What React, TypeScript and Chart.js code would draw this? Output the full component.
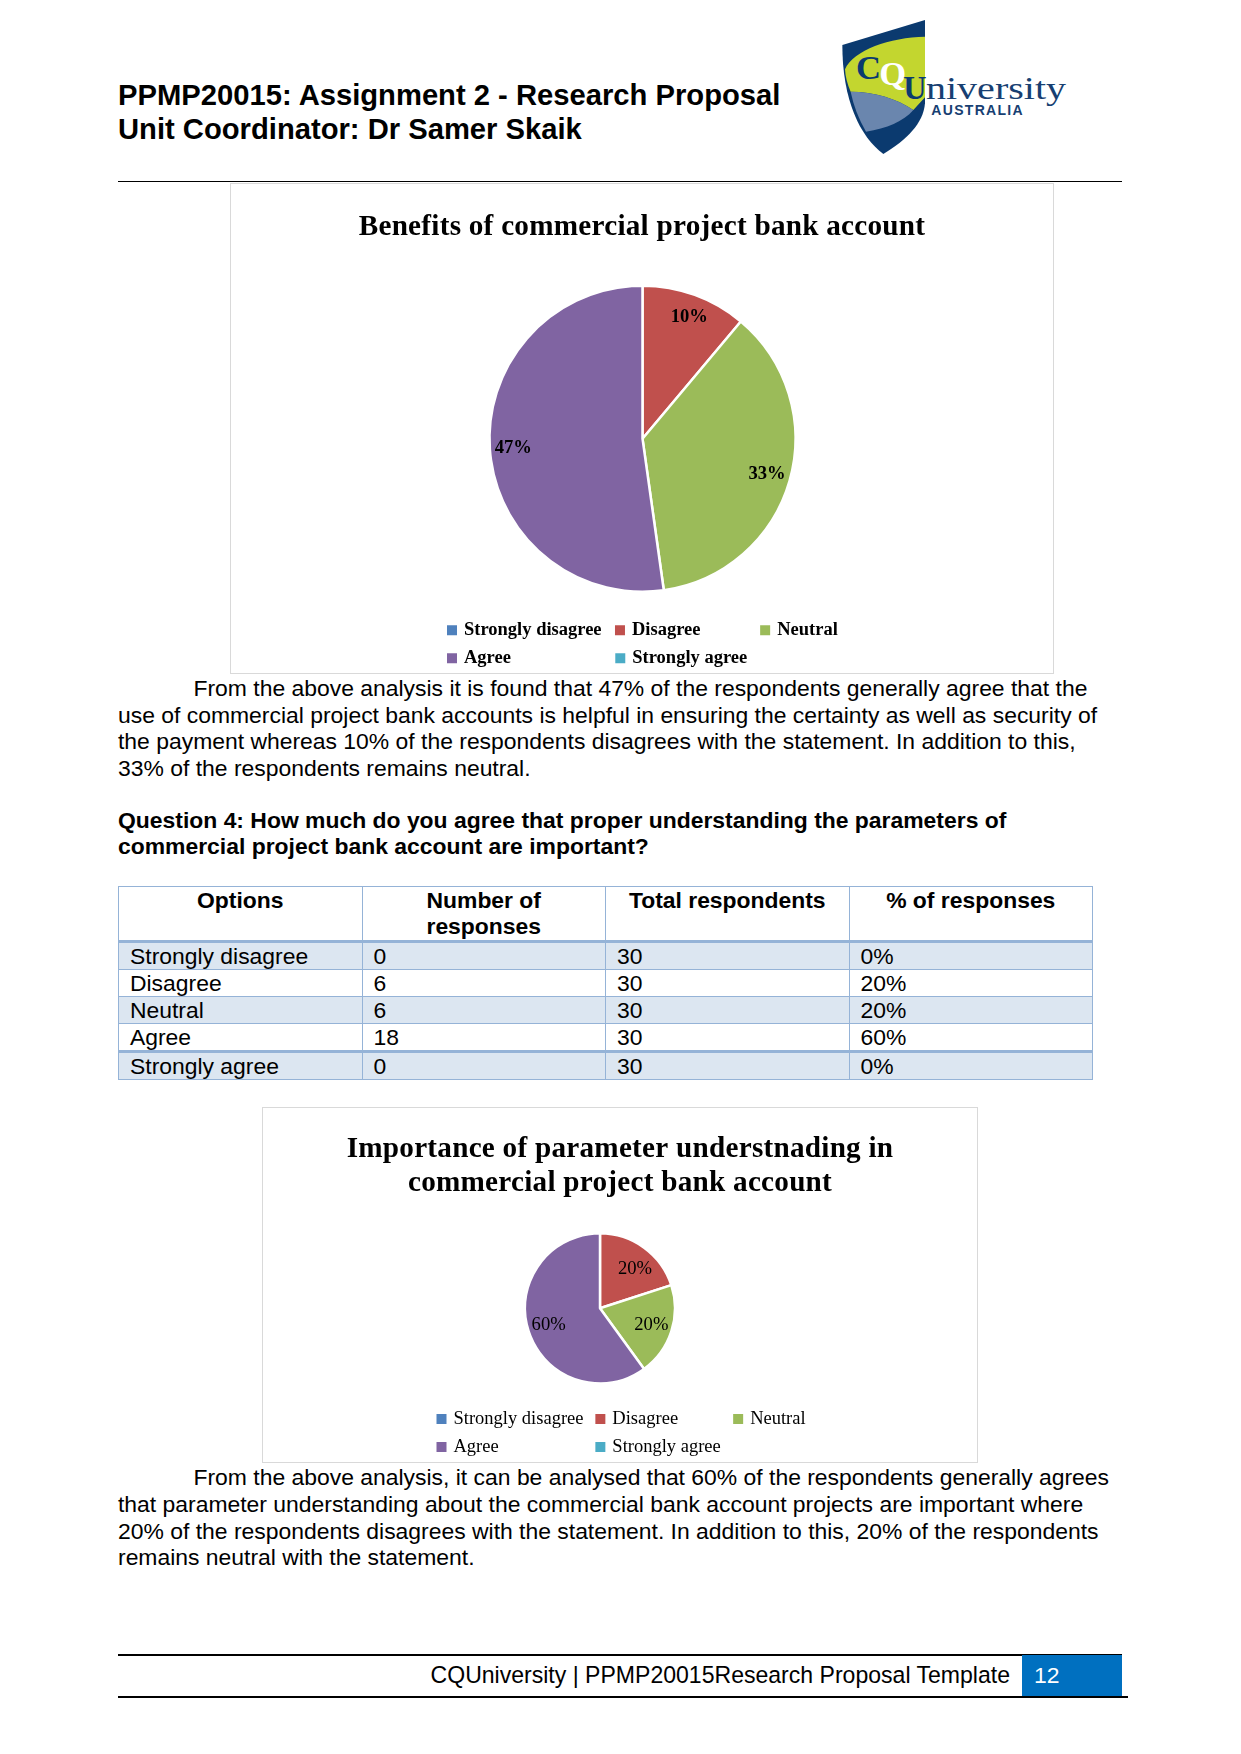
import React, { useEffect, useRef } from "react";
import { Chart, registerables } from "chart.js";

Chart.register(...registerables);

const categories = ["Strongly disagree", "Disagree", "Neutral", "Agree", "Strongly agree"];
const benefitsValues = [0, 10, 33, 47, 0];
const parameterValues = [0, 20, 20, 60, 0];
const sliceColors = ["#4F81BD", "#C0504D", "#9BBB59", "#8064A2", "#4BACC6"];

const tableHeaders = ["Options", "Number of\nresponses", "Total respondents", "% of responses"];
const tableResponses = [0, 6, 6, 18, 0];
const tableTotals = [30, 30, 30, 30, 30];
const tablePercents = ["0%", "20%", "20%", "60%", "0%"];

const SERIF = '"Liberation Serif"';
const SANS = '"Liberation Sans", Arial, sans-serif';

type PieProps = {
  frame: { left: number; top: number; width: number; height: number };
  title: string[];
  titlePadTop: number;
  titleSpacing: string;
  titleSize: number;
  values: number[];
  weight: "bold" | "normal";
  center: { x: number; y: number };
  radius: number;
  inset: number;
  labelNudge: number[][];
  legendBoxX: number;
  legendY: number;
  columnSteps: number[];
};

function PieChart(p: PieProps) {
  const ref = useRef<HTMLCanvasElement>(null);
  useEffect(() => {
    const fontSize = 18.5;
    const pad = 9.5;
    const boxW = 5.5; // advance reserved for the swatch; the swatch itself is boxH wide
    const boxH = 10;
    const placePlugin = {
      id: "place",
      afterLayout(chart: any) {
        const a = chart.chartArea;
        const cx = p.center.x - p.frame.left;
        const cy = p.center.y - p.frame.top;
        a.left = cx - p.radius - 4;
        a.right = cx + p.radius + 4;
        a.top = cy - p.radius - 4;
        a.bottom = cy + p.radius + 4;
        a.width = a.right - a.left;
        a.height = a.bottom - a.top;
        const l = chart.legend;
        l.left = p.legendBoxX - p.frame.left + boxH / 2 - boxW / 2 - pad;
        l.right = l.left + pad + p.columnSteps[0] + p.columnSteps[1] + 125;
        l.top = p.legendY - p.frame.top - fontSize / 2 - pad;
        l.bottom = p.frame.height;
      },
      afterDatasetsDraw(chart: any) {
        const ctx = chart.ctx;
        const arcs = chart.getDatasetMeta(0).data;
        ctx.save();
        ctx.fillStyle = "#000";
        ctx.font = `${p.weight} 18.6px ${SERIF}`;
        ctx.textAlign = "center";
        ctx.textBaseline = "middle";
        arcs.forEach((arc: any, i: number) => {
          if (!p.values[i]) return;
          const { x, y, startAngle, endAngle, outerRadius } = arc.getProps(["x", "y", "startAngle", "endAngle", "outerRadius"]);
          const mid = (startAngle + endAngle) / 2;
          const r = outerRadius - p.inset;
          const [nx = 0, ny = 0] = p.labelNudge[i] ?? [];
          ctx.fillText(`${p.values[i]}%`, x + Math.cos(mid) * r + nx, y + Math.sin(mid) * r + ny);
        });
        ctx.restore();
      },
    };
    const titleSpacingPlugin = {
      id: "titleSpacing",
      beforeDraw(chart: any) {
        const t = chart.titleBlock;
        if (t && !t.__wrapped) {
          const orig = t.draw.bind(t);
          t.draw = (...args: any[]) => {
            chart.ctx.letterSpacing = p.titleSpacing;
            orig(...args);
            chart.ctx.letterSpacing = "0px";
          };
          t.__wrapped = true;
        }
      },
    };
    const chart = new Chart(ref.current!, {
      type: "pie",
      data: {
        labels: categories,
        datasets: [
          {
            data: p.values,
            backgroundColor: sliceColors,
            borderColor: "#FFFFFF",
            borderWidth: 2.5,
            radius: p.radius,
          } as any,
        ],
      },
      plugins: [titleSpacingPlugin, placePlugin],
      options: {
        animation: false,
        responsive: false,
        maintainAspectRatio: false,
        events: [],
        plugins: {
          tooltip: { enabled: false },
          title: {
            display: true,
            text: p.title,
            color: "#000",
            font: { family: SERIF, size: p.titleSize, weight: "bold", lineHeight: 1.15 },
            padding: { top: p.titlePadTop, bottom: 10 },
          },
          legend: {
            display: true,
            position: "bottom",
            align: "start",
            labels: {
              color: "#000",
              usePointStyle: true,
              boxWidth: boxW,
              boxHeight: boxH,
              padding: pad,
              font: { family: SERIF, size: fontSize, weight: p.weight },
              generateLabels(chart: any) {
                const ctx = chart.ctx;
                ctx.save();
                ctx.font = `${p.weight} ${fontSize}px ${SERIF}`;
                const items = categories.map((name, i) => {
                  const col = i % 3;
                  let text = name;
                  if (col < 2) {
                    const want = p.columnSteps[col] - boxW - fontSize / 2 - pad;
                    for (const sp of ["\u00A0", "\u2009", "\u200A"]) {
                      const w = ctx.measureText(sp).width;
                      if (w <= 0) continue;
                      while (ctx.measureText(text + sp).width <= want + 0.5) text += sp;
                    }
                  }
                  return {
                    text,
                    fillStyle: sliceColors[i],
                    strokeStyle: sliceColors[i],
                    lineWidth: 0,
                    hidden: false,
                    index: i,
                    fontColor: "#000",
                    pointStyle: "rect",
                  };
                });
                ctx.restore();
                return items;
              },
            },
          },
        },
      },
    } as any);
    return () => chart.destroy();
  }, []);
  return (
    <div
      style={{
        position: "absolute",
        left: p.frame.left,
        top: p.frame.top,
        width: p.frame.width,
        height: p.frame.height,
        background: "#fff",
      }}
    >
      <canvas ref={ref} width={p.frame.width} height={p.frame.height} style={{ position: "absolute", left: 0, top: 0, display: "block" }} />
      <div
        style={{
          position: "absolute",
          inset: 0,
          border: "1.5px solid #D9D9D9",
          boxSizing: "border-box",
          pointerEvents: "none",
        }}
      />
    </div>
  );
}

function Line(props: { x: number; y: number; size?: number; bold?: boolean; color?: string; right?: number; children: React.ReactNode }) {
  const size = props.size ?? 22.92;
  const h = size * 1.3;
  const pos: React.CSSProperties = props.right !== undefined ? { right: 1241 - props.right } : { left: props.x };
  return (
    <div
      style={{
        position: "absolute",
        ...pos,
        top: props.y - h / 2,
        height: h,
        lineHeight: `${h}px`,
        fontFamily: SANS,
        fontSize: size,
        fontWeight: props.bold ? "bold" : "normal",
        color: props.color ?? "#000",
        whiteSpace: "pre",
      }}
    >
      {props.children}
    </div>
  );
}

function Rule(props: { x: number; y: number; w: number; h: number; color?: string }) {
  return <div style={{ position: "absolute", left: props.x, top: props.y, width: props.w, height: props.h, background: props.color ?? "#000" }} />;
}

function Logo() {
  return (
    <svg style={{ position: "absolute", left: 830, top: 10 }} width={250} height={155} viewBox="0 0 750 465">
      <path d="M37 105 L285 30 L285 280 C280 340 230 390 160 432 C90 380 37 270 37 105 Z" fill="#0B3A6F" />
      <path d="M45 178 C70 120 180 82 285 80 L285 262 L250 300 C200 265 130 245 62 245 C52 222 46 200 45 178 Z" fill="#C3D62F" />
      <path d="M62 245 C130 245 200 265 250 300 C220 335 170 355 108 365 C85 325 70 285 62 245 Z" fill="#6A86AE" />
      <text x="78" y="208" fontFamily={SERIF} fontWeight="bold" fontSize="104" fill="#0B3A6F">C</text>
      <text x="148" y="224" fontFamily={SERIF} fontWeight="bold" fontSize="104" fill="#FFFFFF">Q</text>
      <text x="220" y="268" fontFamily={SERIF} fontWeight="bold" fontSize="100" fill="#0B3A6F" textLength="70" lengthAdjust="spacingAndGlyphs">U</text>
      <text x="288" y="268" fontFamily={SERIF} fontSize="96" fill="#173F72" textLength="420" lengthAdjust="spacingAndGlyphs">niversity</text>
      <text x="304" y="316" fontFamily={SANS} fontWeight="bold" fontSize="42" fill="#173F72" textLength="274" lengthAdjust="spacing">AUSTRALIA</text>
    </svg>
  );
}

function ResponseTable() {
  const border = "1.5px solid #95B3D7";
  const heavy = "3px solid #95B3D7";
  const cols = [243.5, 243.5, 243.5, 243.5];
  const cell: React.CSSProperties = {
    border,
    padding: "0 0 0 11px",
    verticalAlign: "middle",
    lineHeight: "26px",
    boxSizing: "border-box",
  };
  return (
    <table
      style={{
        position: "absolute",
        left: 118,
        top: 886,
        width: 974,
        tableLayout: "fixed",
        borderCollapse: "collapse",
        fontFamily: SANS,
        fontSize: 22.9,
        color: "#000",
      }}
    >
      <colgroup>
        {cols.map((w, i) => (
          <col key={i} style={{ width: w }} />
        ))}
      </colgroup>
      <thead>
        <tr style={{ height: 55 }}>
          {tableHeaders.map((h) => (
            <th key={h} style={{ ...cell, padding: 0, whiteSpace: "pre-line", textAlign: "center", verticalAlign: "top", borderBottom: heavy, fontWeight: "bold" }}>
              {h}
            </th>
          ))}
        </tr>
      </thead>
      <tbody>
        {categories.map((name, i) => {
          const bg = i % 2 === 0 ? "#DCE6F1" : "#FFFFFF";
          const extra: React.CSSProperties = i === 3 ? { borderBottom: heavy } : {};
          return (
            <tr key={name} style={{ height: 27.2, background: bg }}>
              <td style={{ ...cell, ...extra }}>{name}</td>
              <td style={{ ...cell, ...extra }}>{tableResponses[i]}</td>
              <td style={{ ...cell, ...extra }}>{tableTotals[i]}</td>
              <td style={{ ...cell, ...extra }}>{tablePercents[i]}</td>
            </tr>
          );
        })}
      </tbody>
    </table>
  );
}

export default function App() {
  return (
    <div style={{ position: "absolute", left: 0, top: 0, width: 1241, height: 1754, overflow: "hidden", background: "#fff" }}>
      <Line x={118} y={96} size={29.2} bold>PPMP20015: Assignment 2 - Research Proposal</Line>
      <Line x={118} y={130} size={29.2} bold>Unit Coordinator: Dr Samer Skaik</Line>
      <Logo />
      <Rule x={118} y={181} w={1003.5} h={1} />

      <PieChart
        frame={{ left: 230, top: 183, width: 824, height: 491 }}
        title={["Benefits of commercial project bank account"]}
        titlePadTop={28}
        titleSpacing="0.25px"
        titleSize={29.2}
        values={benefitsValues}
        weight="bold"
        center={{ x: 642.5, y: 438.7 }}
        radius={153}
        inset={23.5}
        labelNudge={[[], [2.5, 0.5], [], [], []]}
        legendBoxX={447}
        legendY={630.3}
        columnSteps={[168, 145]}
      />

      <Line x={193.5} y={689}>From the above analysis it is found that 47% of the respondents generally agree that the</Line>
      <Line x={118} y={715.5}>use of commercial project bank accounts is helpful in ensuring the certainty as well as security of</Line>
      <Line x={118} y={742}>the payment whereas 10% of the respondents disagrees with the statement. In addition to this,</Line>
      <Line x={118} y={768.5}>33% of the respondents remains neutral.</Line>

      <Line x={118} y={820.5} bold>Question 4: How much do you agree that proper understanding the parameters of</Line>
      <Line x={118} y={847} bold>commercial project bank account are important?</Line>

      <ResponseTable />

      <PieChart
        frame={{ left: 262, top: 1107, width: 716, height: 356 }}
        title={["Importance of parameter understnading in", "commercial project bank account"]}
        titlePadTop={26}
        titleSpacing="0.25px"
        titleSize={29.2}
        values={parameterValues}
        weight="normal"
        center={{ x: 600, y: 1308.3 }}
        radius={75}
        inset={21}
        labelNudge={[[], [3.3, 4.5], [], [], []]}
        legendBoxX={436.5}
        legendY={1419}
        columnSteps={[158.5, 138.5]}
      />

      <Line x={193.5} y={1478}>From the above analysis, it can be analysed that 60% of the respondents generally agrees</Line>
      <Line x={118} y={1505}>that parameter understanding about the commercial bank account projects are important where</Line>
      <Line x={118} y={1532}>20% of the respondents disagrees with the statement. In addition to this, 20% of the respondents</Line>
      <Line x={118} y={1558}>remains neutral with the statement.</Line>

      <Rule x={118} y={1654} w={1003.5} h={1.5} />
      <Rule x={1022} y={1655} w={99.5} h={41} color="#0070C0" />
      <Rule x={118} y={1696} w={1010} h={2} />
      <Line x={0} right={1010} y={1676} size={23.05}>CQUniversity | PPMP20015Research Proposal Template</Line>
      <Line x={1034} y={1676} color="#FFFFFF">12</Line>
    </div>
  );
}
